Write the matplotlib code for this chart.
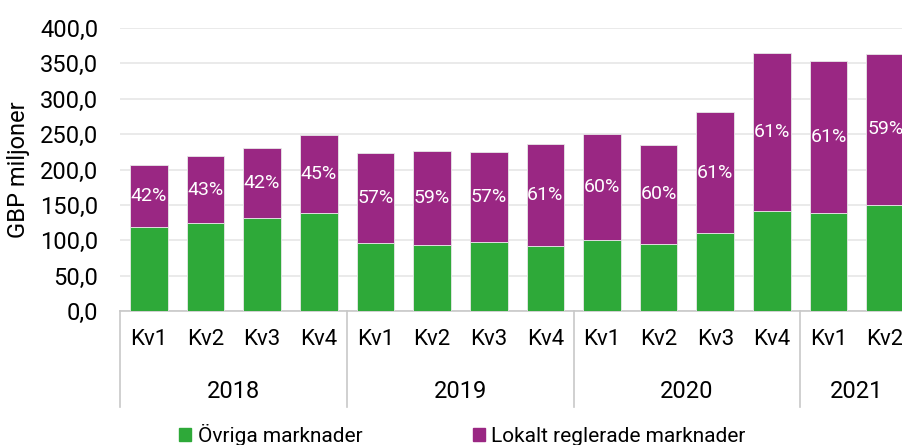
import matplotlib.pyplot as plt
from matplotlib.patches import Patch
import numpy as np

plt.rcParams['font.family'] = ['Roboto', 'DejaVu Sans']

# Data (GBP miljoner)
years = ['2018', '2019', '2020', '2021']
quarters = ['Kv1', 'Kv2', 'Kv3', 'Kv4'] * 3 + ['Kv1', 'Kv2']
ovriga = [119, 124, 132, 138, 96, 93, 97, 92, 100, 95, 110, 142, 138, 150]
lokalt = [88, 95, 98, 111, 128, 133, 128, 144, 150, 140, 171, 223, 215, 214]
pct_labels = ['42%', '43%', '42%', '45%', '57%', '59%', '57%', '61%',
              '60%', '60%', '61%', '61%', '61%', '59%']
quarters_per_year = [4, 4, 4, 2]

green = '#2EA939'
purple = '#9A2783'

fig = plt.figure(figsize=(9.03, 4.45), dpi=100)
ax = fig.add_axes([0.1334, 0.301, 0.8783, 0.636])

x = np.arange(len(ovriga))
ax.bar(x, ovriga, width=0.665, color=green, edgecolor='#e8e8e8', linewidth=0.6, zorder=3)
ax.bar(x, lokalt, width=0.665, bottom=ovriga, color=purple, edgecolor='#e8e8e8',
       linewidth=0.6, zorder=3)

for xi, b, h, lab in zip(x, ovriga, lokalt, pct_labels):
    ax.text(xi, b + h / 2, lab, ha='center', va='center', color='white', fontsize=14, zorder=4)

ax.set_xlim(-0.5, len(ovriga) - 0.5)
ax.set_ylim(0, 400)
ax.set_yticks(np.arange(0, 401, 50))
ax.set_yticklabels([f'{v:.1f}'.replace('.', ',') for v in np.arange(0, 401, 50)], fontsize=17)
ax.yaxis.grid(True, color='#e6e6e6', linewidth=1.2, zorder=0)
ax.set_ylabel('GBP miljoner', fontsize=17, labelpad=7)
ax.tick_params(axis='y', length=0, pad=16)

for s in ['top', 'right', 'left']:
    ax.spines[s].set_visible(False)
ax.spines['bottom'].set_color('#c8c8c8')
ax.spines['bottom'].set_linewidth(1.2)

# quarter labels
ax.set_xticks(x)
ax.set_xticklabels(quarters, fontsize=16)
ax.tick_params(axis='x', length=0, pad=13)
ax.get_xticklabels()[-1].set_horizontalalignment('center')

# year labels and group separators
trans = ax.get_xaxis_transform()
start = -0.5
for yr, n in zip(years, quarters_per_year):
    ax.plot([start, start], [0, -0.34], transform=trans, color='#c8c8c8',
            linewidth=1.2, clip_on=False)
    ax.text(start + n / 2, -0.283, yr, transform=trans, ha='center', va='center', fontsize=17)
    start += n
ax.plot([start, start], [0, -0.34], transform=trans, color='#c8c8c8',
        linewidth=1.2, clip_on=False)

handles = [Patch(color=green, label='Övriga marknader'),
           Patch(color=purple, label='Lokalt reglerade marknader')]
fig.legend(handles=handles, loc='center', bbox_to_anchor=(0.512, 0.022), ncol=2,
           frameon=False, fontsize=15, handlelength=0.6, handleheight=0.6,
           handletextpad=0.3, columnspacing=5.3)

fig.savefig('out.png', dpi=100)
